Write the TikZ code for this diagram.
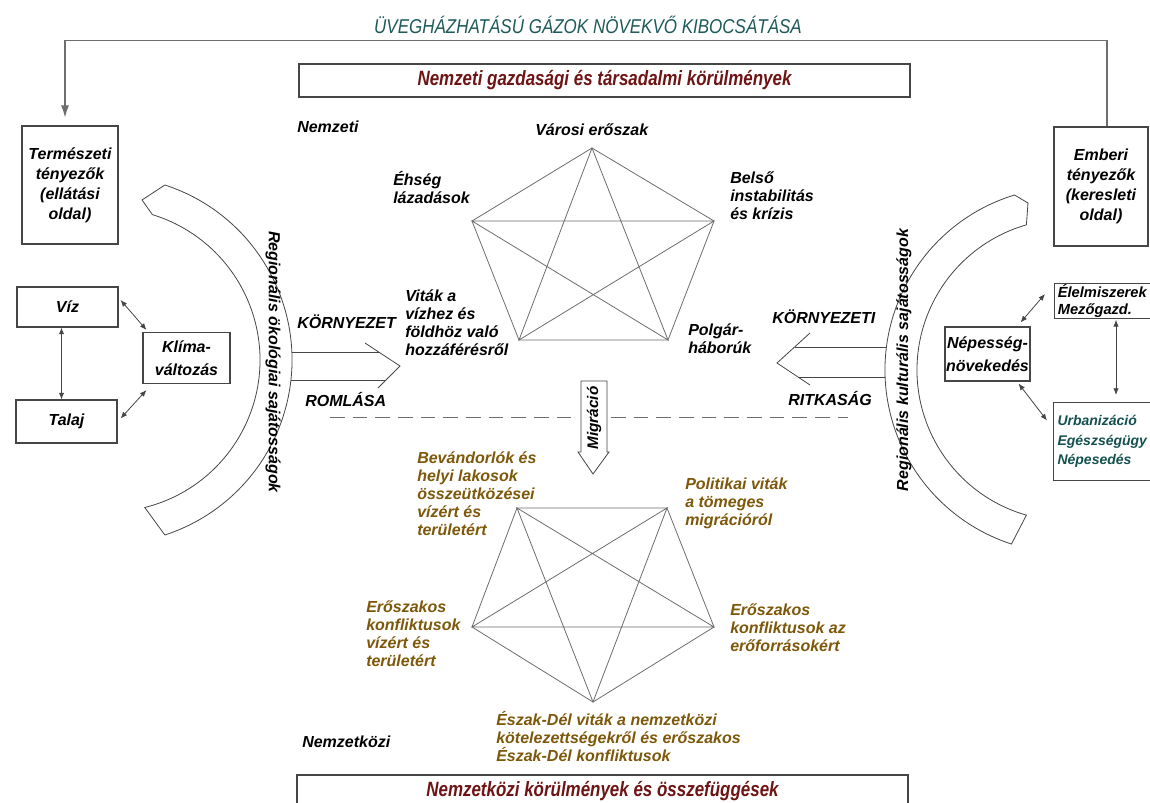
\documentclass[tikz,border=0pt]{standalone}
\usepackage{fontspec}
\setmainfont{Liberation Sans}
\newfontfamily\narrowfont[FakeStretch=0.82]{Liberation Sans}
\newfontfamily\titlefont[FakeStretch=0.85]{Liberation Sans}
\usetikzlibrary{arrows.meta,calc}
\definecolor{teal1}{RGB}{30,90,90}
\definecolor{urbteal}{RGB}{20,80,80}
\definecolor{darkred1}{RGB}{110,20,20}
\definecolor{brown1}{RGB}{125,88,10}
\definecolor{line1}{RGB}{70,70,70}
\definecolor{line2}{RGB}{110,110,110}
\newcommand\lblfont{\fontsize{12}{13.5}\selectfont\bfseries\itshape}
\newcommand\mybxfont{\fontsize{12}{15}\selectfont\bfseries\itshape}
\tikzset{
  lbl/.style={font=\lblfont, inner sep=0pt, align=left, anchor=west},
  blbl/.style={lbl, text=brown1},
  box/.style={draw=line1, line width=0.8pt, inner sep=0pt, align=center, font=\mybxfont},
  dbl/.style={{Latex[length=5pt,width=4pt]}-{Latex[length=5pt,width=4pt]}, line width=0.6pt, draw=line1},
  thinl/.style={line width=0.6pt, draw=line1},
  penta/.style={line width=0.6pt, draw=line2},
  bigbox/.style={draw=line1, line width=0.8pt, inner sep=0pt, font=\narrowfont\fontsize{15.5}{17}\selectfont\bfseries\itshape, text=darkred1},
}
\begin{document}
\begin{tikzpicture}[x=0.75pt,y=-0.75pt]
\useasboundingbox (0,0) rectangle (1150,803);
\begin{scope}
\clip (0,0) rectangle (1150,803);
\fill[white] (0,0) rectangle (1150,803);

% title
\node[font=\titlefont\fontsize{15}{17}\selectfont\itshape, text=teal1, inner sep=0pt] (title) at (588,25) {ÜVEGHÁZHATÁSÚ GÁZOK NÖVEKVŐ KIBOCSÁTÁSA};

% top and bottom boxes
\node[bigbox, minimum width=458.25pt, minimum height=24.75pt] (nemzbox) at (604.5,80.5) {Nemzeti gazdasági és társadalmi körülmények};
\node[bigbox, minimum width=458.25pt, minimum height=24.75pt] (nkbox) at (602.5,791.5) {Nemzetközi körülmények és összefüggések};

% left boxes
\node[box, minimum width=72pt, minimum height=88.5pt] (term) at (70,185) {Természeti\\tényezők\\(ellátási\\oldal)};
\node[box, minimum width=75.75pt, minimum height=30pt] (viz) at (67.5,307) {Víz};
\node[box, minimum width=75.75pt, minimum height=32.25pt] (talaj) at (66.5,421.5) {Talaj};
\node[box, minimum width=65.25pt, minimum height=38.25pt, font=\fontsize{12}{17}\selectfont\bfseries\itshape] (klima) at (186.5,358) {Klíma-\\változás};

% right boxes
\node[box, minimum width=70.5pt, minimum height=89.25pt] (emberi) at (1101,186.5) {Emberi\\tényezők\\(keresleti\\oldal)};
\node[box, minimum width=63.75pt, minimum height=40.5pt, font=\fontsize{12}{17}\selectfont\bfseries\itshape] (nep) at (987.5,354) {Népesség-\\növekedés};
\node[box, anchor=west, text width=110pt, align=left, inner xsep=2.5pt, minimum height=26pt, font=\fontsize{11}{13}\selectfont\bfseries\itshape] (elel) at (1054,301) {Élelmiszerek\\Mezőgazd.};
\node[box, anchor=north west, text width=110pt, align=left, inner xsep=3pt, minimum height=58.5pt, font=\fontsize{10.5}{14.5}\selectfont\bfseries\itshape, text=urbteal] (urb) at (1053,402) {Urbanizáció\\Egészségügy\\Népesedés};

% feedback arrow
\draw[line width=0.8pt, draw=line2, -{Latex[length=9pt,width=6pt]}, shorten >=6pt] ($(emberi.north)+(6,0)$) -- ++(0,-86) -| ($(term.north)+(-5,0)$);

% small arrows left
\draw[dbl] ($(viz.south)+(-6,0)$) -- ($(talaj.north)+(-5,0)$);
\draw[dbl] ($(viz.east)+(2,-7)$) -- ($(klima.north west)+(4,-2)$);
\draw[dbl] ($(talaj.east)+(3,-3)$) -- ($(klima.south west)+(4,6)$);
% small arrows right
\draw[dbl] ($(nep.north east)+(-10,-4)$) -- ($(elel.west)+(-9,-7)$);
\draw[dbl] ($(nep.south east)+(-12,2)$) -- ($(urb.west)+(-6,-21)$);
\draw[dbl] ($(elel.south west)+(62,1)$) -- ($(urb.north west)+(63,-7)$);

% left band
\draw[thinl] (108,360) ++(-72:184) arc[start angle=-72, end angle=72, radius=184]
  -- ($(108,360)+(76:152)$) arc[start angle=76, end angle=-73, radius=152] -- (142,200) -- cycle;
\node[font=\lblfont, rotate=-90, inner sep=0pt] (regl) at (273,362) {Regionális ökológiai sajátosságok};

% right band
\draw[thinl] (1068,370) ++(253:183) arc[start angle=253, end angle=108, radius=183]
  -- ($(1068,370)+(106:151)$) arc[start angle=106, end angle=254, radius=151] -- (1028,203) -- cycle;
\node[font=\lblfont, rotate=90, inner sep=0pt] (regr) at (904,360) {Regionális kulturális sajátosságok};

% KÖRNYEZET arrow (left, pointing right)
\draw[thinl] (292,352) -- (379,352);
\draw[thinl] (291,380) -- (386,380);
\draw[thinl] (365,343) -- (400,366) -- (378,388);
\node[lbl] (korny) at (297,322) {KÖRNYEZET};
\node[lbl] (roml) at (305,400) {ROMLÁSA};

% KÖRNYEZETI arrow (right, pointing left)
\draw[thinl] (886,347) -- (795,347);
\draw[thinl] (885,377) -- (798,377);
\draw[thinl] (810,333) -- (777,363) -- (810,385);
\node[lbl] (kornyi) at (772,317) {KÖRNYEZETI};
\node[lbl] (ritk) at (788,399) {RITKASÁG};

% dashed line
\draw[line width=0.7pt, draw=line2, dash pattern=on 11pt off 6pt] (330,417) -- (576,417);
\draw[line width=0.7pt, draw=line2, dash pattern=on 11pt off 6pt] (611,417) -- (848,417);

% migration arrow
\draw[thinl] (581,452) -- (581,381) -- (607,381) -- (607,452) -- (609,452) -- (593,474) -- (578,452) -- cycle;
\node[font=\fontsize{11.5}{13}\selectfont\bfseries\itshape, rotate=90, inner sep=0pt] (migr) at (594,418) {Migráció};

% top pentagon
\coordinate (t1) at (592,148);
\coordinate (t2) at (714,221);
\coordinate (t3) at (668,340);
\coordinate (t4) at (519,340);
\coordinate (t5) at (472,221);
\draw[penta] (t1) -- (t2) -- (t3) -- (t4) -- (t5) -- cycle;
\draw[penta] (t1) -- (t3) -- (t5) -- (t2) -- (t4) -- cycle;

% bottom pentagon
\coordinate (b1) at (517,508);
\coordinate (b2) at (667,508);
\coordinate (b3) at (714,627);
\coordinate (b4) at (593,702);
\coordinate (b5) at (472,627);
\draw[penta] (b1) -- (b2) -- (b3) -- (b4) -- (b5) -- cycle;
\draw[penta] (b1) -- (b3) -- (b5) -- (b2) -- (b4) -- cycle;

% labels top
\node[lbl] (nemzeti) at (297,127) {Nemzeti};
\node[lbl] (varosi) at (535,130) {Városi erőszak};
\node[lbl] (ehseg) at (393,187.5) {Éhség\\lázadások};
\node[lbl] (belso) at (730,196) {Belső\\instabilitás\\és krízis};
\node[lbl] (vitak) at (405,323) {Viták a\\vízhez és\\földhöz való\\hozzáférésről};
\node[lbl] (polgar) at (688,339) {Polgár-\\háborúk};

% labels bottom
\node[blbl] (bevand) at (417,494) {Bevándorlók és\\helyi lakosok\\összeütközései\\vízért és\\területért};
\node[blbl] (polit) at (685,503) {Politikai viták\\a tömeges\\migrációról};
\node[blbl] (erol) at (366,634) {Erőszakos\\konfliktusok\\vízért és\\területért};
\node[blbl] (eror) at (730,628) {Erőszakos\\konfliktusok az\\erőforrásokért};
\node[blbl] (eszak) at (496,737) {Észak-Dél viták a nemzetközi\\kötelezettségekről és erőszakos\\Észak-Dél konfliktusok};
\node[lbl] (nemzk) at (302,742) {Nemzetközi};
\end{scope}
\end{tikzpicture}
\end{document}
